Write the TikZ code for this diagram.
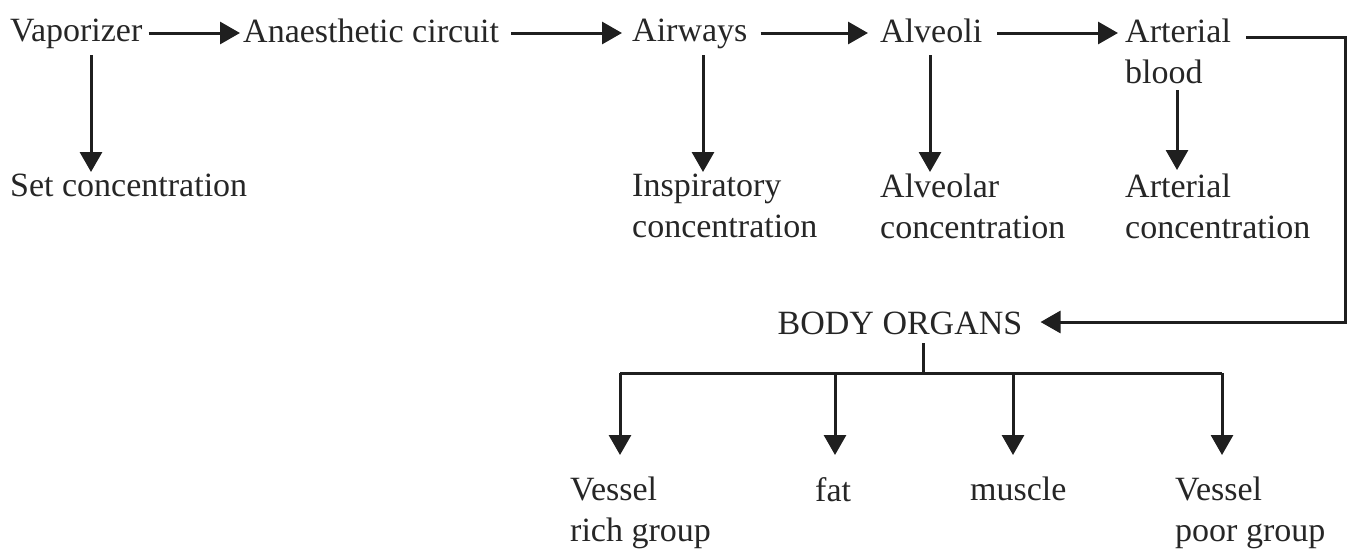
\documentclass[tikz,border=0pt]{standalone}
\usepackage{fontspec}
\setmainfont{Liberation Serif}
\usetikzlibrary{arrows.meta}
\begin{document}
\begin{tikzpicture}[x=1pt,y=-1pt,
  lbl/.style={inner sep=0pt,anchor=north west,align=left,text=black!85,font=\fontsize{34}{41}\selectfont},
  ln/.style={line width=3pt,draw=black!88},
  arr/.style={ln,-{Triangle[width=22pt,length=20pt]}}]
\useasboundingbox (0,0) rectangle (1359,549);
% top row
\node[lbl] (vap) at (10,19) {Vaporizer};
\node[lbl] (anc) at (243,19) {Anaesthetic circuit};
\node[lbl] (air) at (632,19) {Airways};
\node[lbl] (alv) at (880,19) {Alveoli};
\node[lbl] (art) at (1125,19) {Arterial\\blood};
% second row
\node[lbl] (set) at (10,174) {Set concentration};
\node[lbl] (insp) at (632,174) {Inspiratory\\concentration};
\node[lbl] (alvc) at (880,174) {Alveolar\\concentration};
\node[lbl] (artc) at (1125,174) {Arterial\\concentration};
% body organs
\node[lbl,anchor=north] (body) at (900,312) {BODY ORGANS};
\node[lbl] (vr) at (570,477) {Vessel\\rich group};
\node[lbl] (fat) at (815,477) {fat};
\node[lbl] (mus) at (970,477) {muscle};
\node[lbl] (vp) at (1175,477) {Vessel\\poor group};
% helper coordinates
\coordinate (r1) at (0,33);
\coordinate (r2) at (0,37);
\coordinate (rc) at (1345,0);
\coordinate (rb) at (0,322);
\coordinate (hub) at (923,373);
\coordinate (b1) at (620,373);
\coordinate (b2) at (835,373);
\coordinate (b3) at (1013,373);
\coordinate (b4) at (1222,373);
% top row arrows
\draw[arr,shorten <=6pt,shorten >=3pt] (vap.east |- r1) -- (anc.west |- r1);
\draw[arr,shorten <=12pt,shorten >=10pt] (anc.east |- r1) -- (air.west |- r1);
\draw[arr,shorten <=13pt,shorten >=12pt] (air.east |- r1) -- (alv.west |- r1);
\draw[arr,shorten <=15pt,shorten >=7pt] (alv.east |- r1) -- (art.west |- r1);
% down arrows
\coordinate (d1) at (91,55);
\coordinate (d2) at (703,55);
\coordinate (d3) at (930,55);
\coordinate (d4) at (1177,90);
\draw[arr,shorten >=2pt] (d1) -- (d1 |- set.north);
\draw[arr,shorten >=2pt] (d2) -- (d2 |- insp.north);
\draw[arr,shorten >=2pt] (d3) -- (d3 |- alvc.north);
\draw[arr,shorten >=4pt] (d4) -- (d4 |- artc.north);
% loop to body organs
\draw[arr,shorten >=18pt] ([xshift=15pt]art.east |- r2) -- (rc |- r2) -- (rc |- rb) -- (body.east |- rb);
% tree
\draw[ln,shorten <=8pt] (hub |- body.south) -- (hub);
\draw[ln] (b1) -- (b4);
\draw[arr,shorten >=22pt] (b1) -- (b1 |- vr.north);
\draw[arr,shorten >=22pt] (b2) -- (b2 |- fat.north);
\draw[arr,shorten >=22pt] (b3) -- (b3 |- mus.north);
\draw[arr,shorten >=22pt] (b4) -- (b4 |- vp.north);
\end{tikzpicture}
\end{document}
